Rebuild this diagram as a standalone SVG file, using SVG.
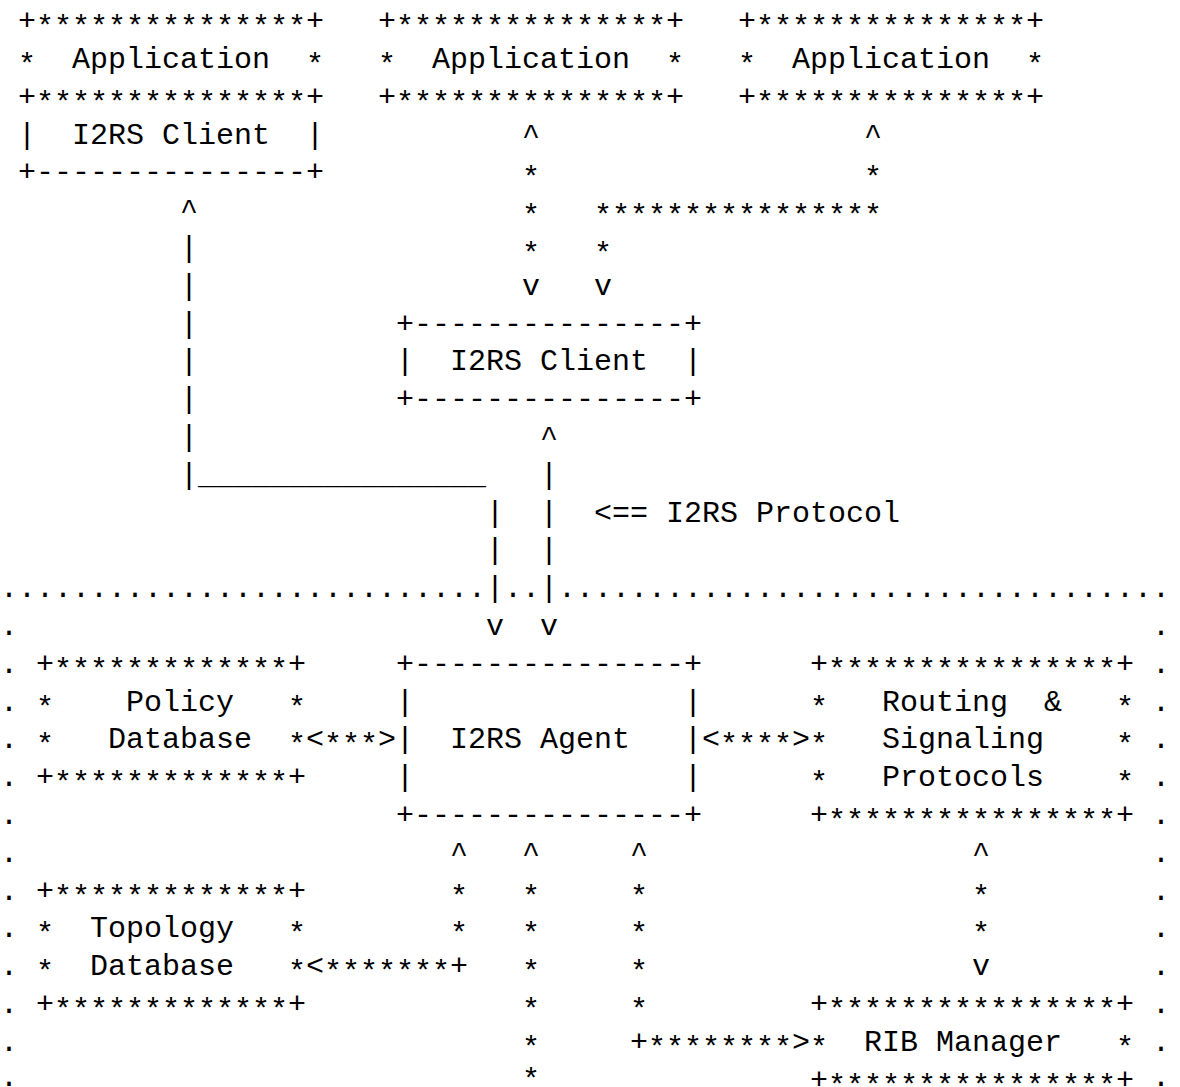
<svg xmlns="http://www.w3.org/2000/svg" width="1180" height="1087" viewBox="0 0 1180 1087" xml:space="preserve">
  <style>
    text { font-family: "Liberation Mono", "DejaVu Sans Mono", monospace; font-size: 30px; fill: #000; white-space: pre; }
    /* asterisks sit on the middle of the line, level with the plus signs */
    .s { baseline-shift: -6px; }
  </style>
  <rect width="1180" height="1087" fill="#fff"/>

  <!-- character grid: 18px per column, 37.8px per row -->

  <g id="application-1">
    <text x="18" y="30.2">+<tspan class="s">***************</tspan>+</text>
    <text x="18" y="68"><tspan class="s">*</tspan>  Application  <tspan class="s">*</tspan></text>
    <text x="18" y="105.8">+<tspan class="s">***************</tspan>+</text>
  </g>
  <g id="i2rs-client-1">
    <text x="18" y="143.6">|  I2RS Client  |</text>
    <text x="18" y="181.4">+---------------+</text>
  </g>
  <g id="application-2">
    <text x="378" y="30.2">+<tspan class="s">***************</tspan>+</text>
    <text x="378" y="68"><tspan class="s">*</tspan>  Application  <tspan class="s">*</tspan></text>
    <text x="378" y="105.8">+<tspan class="s">***************</tspan>+</text>
  </g>
  <g id="application-3">
    <text x="738" y="30.2">+<tspan class="s">***************</tspan>+</text>
    <text x="738" y="68"><tspan class="s">*</tspan>  Application  <tspan class="s">*</tspan></text>
    <text x="738" y="105.8">+<tspan class="s">***************</tspan>+</text>
  </g>
  <g id="i2rs-client-2">
    <text x="396" y="332.6">+---------------+</text>
    <text x="396" y="370.4">|  I2RS Client  |</text>
    <text x="396" y="408.2">+---------------+</text>
  </g>
  <g id="protocol-label">
    <text x="594" y="521.6">&lt;== I2RS Protocol</text>
  </g>

  <g id="router-boundary">
    <text x="0" y="597.2">...........................</text>
    <text x="504" y="597.2">..</text>
    <text x="558" y="597.2">..................................</text>
    <text x="0"><tspan x="0" y="635">.</tspan><tspan x="0" y="672.8">.</tspan><tspan x="0" y="710.6">.</tspan><tspan x="0" y="748.4">.</tspan><tspan x="0" y="786.2">.</tspan><tspan x="0" y="824">.</tspan><tspan x="0" y="861.8">.</tspan><tspan x="0" y="899.6">.</tspan><tspan x="0" y="937.4">.</tspan><tspan x="0" y="975.2">.</tspan><tspan x="0" y="1013">.</tspan><tspan x="0" y="1050.8">.</tspan><tspan x="0" y="1086">.</tspan></text>
    <text x="1152"><tspan x="1152" y="635">.</tspan><tspan x="1152" y="672.8">.</tspan><tspan x="1152" y="710.6">.</tspan><tspan x="1152" y="748.4">.</tspan><tspan x="1152" y="786.2">.</tspan><tspan x="1152" y="824">.</tspan><tspan x="1152" y="861.8">.</tspan><tspan x="1152" y="899.6">.</tspan><tspan x="1152" y="937.4">.</tspan><tspan x="1152" y="975.2">.</tspan><tspan x="1152" y="1013">.</tspan><tspan x="1152" y="1050.8">.</tspan><tspan x="1152" y="1086">.</tspan></text>
  </g>

  <g id="policy-database">
    <text x="36" y="672.8">+<tspan class="s">*************</tspan>+</text>
    <text x="36" y="710.6"><tspan class="s">*</tspan>    Policy   <tspan class="s">*</tspan></text>
    <text x="36" y="748.4"><tspan class="s">*</tspan>   Database  <tspan class="s">*</tspan></text>
    <text x="36" y="786.2">+<tspan class="s">*************</tspan>+</text>
  </g>
  <g id="i2rs-agent">
    <text x="396" y="672.8">+---------------+</text>
    <text x="396" y="710.6">|               |</text>
    <text x="396" y="748.4">|  I2RS Agent   |</text>
    <text x="396" y="786.2">|               |</text>
    <text x="396" y="824">+---------------+</text>
  </g>
  <g id="routing-signaling">
    <text x="810" y="672.8">+<tspan class="s">****************</tspan>+</text>
    <text x="810" y="710.6"><tspan class="s">*</tspan>   Routing  &amp;   <tspan class="s">*</tspan></text>
    <text x="810" y="748.4"><tspan class="s">*</tspan>   Signaling    <tspan class="s">*</tspan></text>
    <text x="810" y="786.2"><tspan class="s">*</tspan>   Protocols    <tspan class="s">*</tspan></text>
    <text x="810" y="824">+<tspan class="s">****************</tspan>+</text>
  </g>
  <g id="topology-database">
    <text x="36" y="899.6">+<tspan class="s">*************</tspan>+</text>
    <text x="36" y="937.4"><tspan class="s">*</tspan>  Topology   <tspan class="s">*</tspan></text>
    <text x="36" y="975.2"><tspan class="s">*</tspan>  Database   <tspan class="s">*</tspan></text>
    <text x="36" y="1013">+<tspan class="s">*************</tspan>+</text>
  </g>
  <g id="rib-manager">
    <text x="810" y="1013">+<tspan class="s">****************</tspan>+</text>
    <text x="810" y="1050.8"><tspan class="s">*</tspan>  RIB Manager   <tspan class="s">*</tspan></text>
    <text x="810" y="1088.6">+<tspan class="s">****************</tspan>+</text>
  </g>

  <g id="connectors">
    <!-- application 2 to client 2 -->
    <text><tspan x="522" y="143.6">^</tspan><tspan class="s" x="522" y="181.4">*</tspan><tspan class="s" x="522" y="219.2">*</tspan><tspan class="s" x="522" y="257">*</tspan><tspan x="522" y="294.8">v</tspan></text>
    <!-- application 3 to client 2 -->
    <text><tspan x="864" y="143.6">^</tspan><tspan class="s" x="864" y="181.4">*</tspan><tspan class="s" x="594" y="219.2">****************</tspan><tspan class="s" x="594" y="257">*</tspan><tspan x="594" y="294.8">v</tspan></text>
    <!-- client 1 to agent -->
    <text><tspan x="180" y="219.2">^</tspan><tspan x="180" y="257">|</tspan><tspan x="180" y="294.8">|</tspan><tspan x="180" y="332.6">|</tspan><tspan x="180" y="370.4">|</tspan><tspan x="180" y="408.2">|</tspan><tspan x="180" y="446">|</tspan><tspan x="180" y="483.8">|________________</tspan><tspan x="486" y="521.6">|</tspan><tspan x="486" y="559.4">|</tspan><tspan x="486" y="597.2">|</tspan><tspan x="486" y="635">v</tspan></text>
    <!-- client 2 to agent -->
    <text><tspan x="540" y="446">^</tspan><tspan x="540" y="483.8">|</tspan><tspan x="540" y="521.6">|</tspan><tspan x="540" y="559.4">|</tspan><tspan x="540" y="597.2">|</tspan><tspan x="540" y="635">v</tspan></text>
    <!-- policy database to agent -->
    <text x="306" y="748.4">&lt;<tspan class="s">***</tspan>&gt;</text>
    <!-- agent to routing and signaling -->
    <text x="702" y="748.4">&lt;<tspan class="s">****</tspan>&gt;</text>
    <!-- agent to topology database -->
    <text><tspan x="450" y="861.8">^</tspan><tspan class="s" x="450" y="899.6">*</tspan><tspan class="s" x="450" y="937.4">*</tspan><tspan x="306" y="975.2">&lt;</tspan><tspan class="s">*******</tspan><tspan>+</tspan></text>
    <!-- agent downward -->
    <text><tspan x="522" y="861.8">^</tspan><tspan class="s" x="522" y="899.6">*</tspan><tspan class="s" x="522" y="937.4">*</tspan><tspan class="s" x="522" y="975.2">*</tspan><tspan class="s" x="522" y="1013">*</tspan><tspan class="s" x="522" y="1050.8">*</tspan><tspan class="s" x="522" y="1082.6">*</tspan></text>
    <!-- agent to RIB manager -->
    <text><tspan x="630" y="861.8">^</tspan><tspan class="s" x="630" y="899.6">*</tspan><tspan class="s" x="630" y="937.4">*</tspan><tspan class="s" x="630" y="975.2">*</tspan><tspan class="s" x="630" y="1013">*</tspan><tspan x="630" y="1050.8">+</tspan><tspan class="s">********</tspan><tspan>&gt;</tspan></text>
    <!-- routing and signaling to RIB manager -->
    <text><tspan x="972" y="861.8">^</tspan><tspan class="s" x="972" y="899.6">*</tspan><tspan class="s" x="972" y="937.4">*</tspan><tspan x="972" y="975.2">v</tspan></text>
  </g>
</svg>
